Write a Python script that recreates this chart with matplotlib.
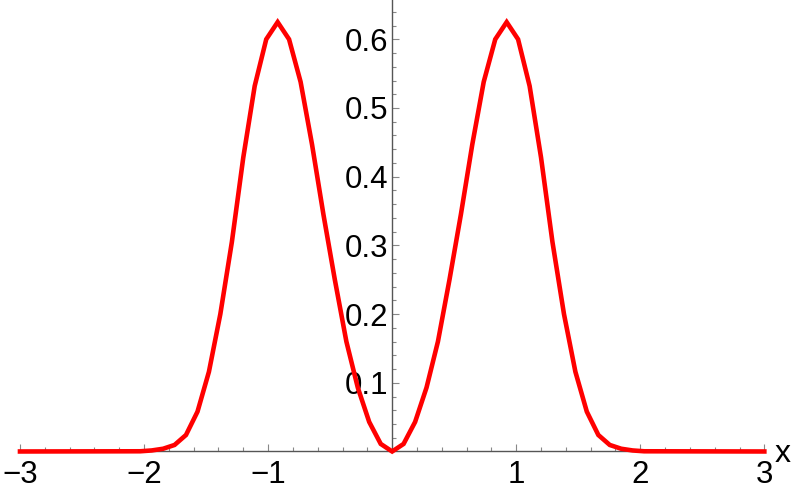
import matplotlib
matplotlib.use("Agg")
import matplotlib.pyplot as plt
import numpy as np

plt.rcParams["font.family"] = ["Liberation Sans", "DejaVu Sans"]

x_right = [0.0, 0.092, 0.185, 0.277, 0.369, 0.462, 0.554, 0.646, 0.738, 0.831,
           0.923, 1.015, 1.108, 1.2, 1.292, 1.385, 1.477, 1.569, 1.662, 1.754,
           1.846, 1.938, 2.031, 3.0]
y_right = [0.0, 0.011, 0.043, 0.093, 0.160, 0.250, 0.345, 0.447, 0.538, 0.600,
           0.625, 0.600, 0.532, 0.428, 0.305, 0.200, 0.116, 0.058, 0.024, 0.0095,
           0.004, 0.0015, 0.0003, 0.0]
x_left = [-3.0, -2.031, -1.938, -1.846, -1.754, -1.662, -1.569, -1.477, -1.385, -1.292,
          -1.2, -1.108, -1.015, -0.923, -0.831, -0.738, -0.646, -0.554, -0.462, -0.369,
          -0.277, -0.185, -0.092]
y_left = [0.0, 0.0003, 0.0015, 0.004, 0.0095, 0.024, 0.058, 0.116, 0.200, 0.305,
          0.428, 0.532, 0.600, 0.625, 0.600, 0.538, 0.447, 0.345, 0.250, 0.160,
          0.093, 0.043, 0.011]

x_ticks = [-3, -2, -1, 1, 2, 3]
y_ticks = [0.1, 0.2, 0.3, 0.4, 0.5, 0.6]
x_minor = [v / 10 for v in range(-28, 30, 2) if v % 10 != 0]
y_minor = [v / 100 for v in range(2, 66, 2) if v % 10 != 0]

xs = x_left + x_right
ys = y_left + y_right

fig = plt.figure(figsize=(7.93, 4.96), dpi=100, facecolor="white")
ax = fig.add_axes([0, 0, 1, 1])
ax.plot(xs, ys, color="#FF0000", lw=3.3, solid_joinstyle="miter", zorder=3)

ax.set_xlim(-3.161, 3.231)
ax.set_ylim(-0.0648, 0.6572)

for s in ["top", "right"]:
    ax.spines[s].set_visible(False)
ax.spines["bottom"].set_position(("data", 0))
ax.spines["left"].set_position(("data", 0))
ax.spines["bottom"].set_bounds(-3, 3)
ax.spines["left"].set_bounds(0, 0.6572)
for s in ["bottom", "left"]:
    ax.spines[s].set_color("#555555")
    ax.spines[s].set_linewidth(1.0)

ax.set_xticks(x_ticks)
ax.set_xticklabels(["\u22123", "\u22122", "\u22121", "1", "2", "3"])
ax.set_yticks(y_ticks)
ax.set_yticklabels(["0.1", "0.2", "0.3", "0.4", "0.5", "0.6"])
ax.set_xticks(x_minor, minor=True)
ax.set_yticks(y_minor, minor=True)

ax.tick_params(axis="both", which="major", direction="in", length=5, width=0.8,
               color="#888888", labelsize=22.5, labelcolor="black")
ax.tick_params(axis="both", which="minor", direction="in", length=3, width=0.8,
               color="#888888")
ax.tick_params(axis="x", which="major", pad=6)
ax.tick_params(axis="y", which="major", pad=3)

ax.text(3.08, -0.004, "x", fontsize=23, ha="left", va="center")

fig.savefig("out.png", dpi=100, facecolor="white")
